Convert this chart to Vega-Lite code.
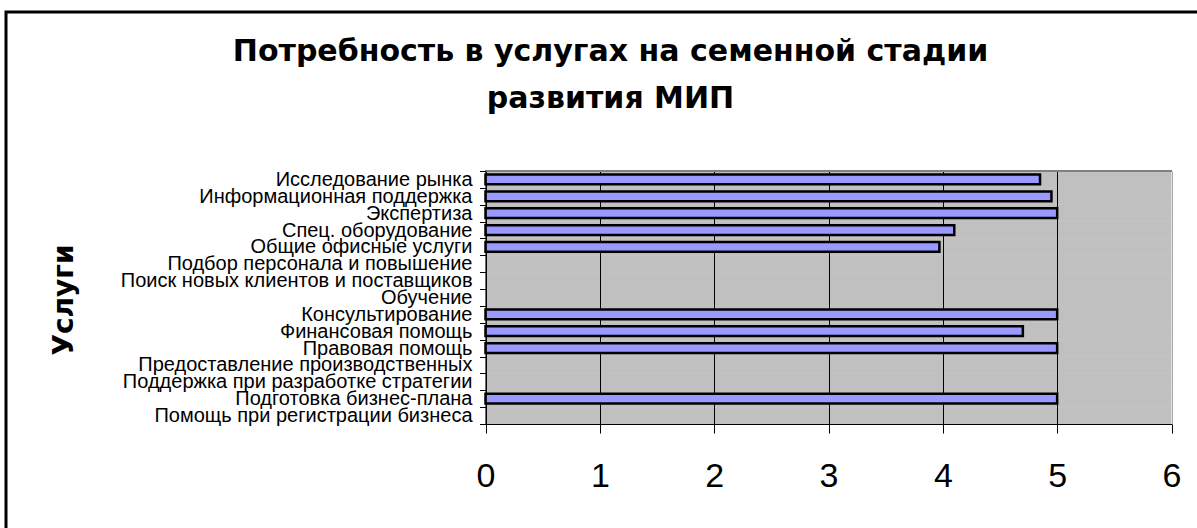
{
  "$schema": "https://vega.github.io/schema/vega-lite/v6.json",
  "width": 1195,
  "height": 571,
  "autosize": {"type": "none"},
  "padding": {"left": 6, "top": 12, "right": -4, "bottom": -55},
  "background": "white",
  "config": {
    "font": "Liberation Sans",
    "view": {"stroke": "black", "strokeWidth": 3}
  },
  "title": {
    "text": ["Потребность в услугах на семенной стадии", "развития МИП"],
    "font": "DejaVu Sans",
    "fontSize": 30,
    "fontWeight": "bold",
    "color": "black",
    "anchor": "middle",
    "frame": "group",
    "baseline": "alphabetic",
    "lineHeight": 47,
    "offset": 0,
    "dx": 7,
    "dy": 136
  },
  "data": {
    "values": [
      {"service": "Исследование рынка", "score": 4.85},
      {"service": "Информационная поддержка", "score": 4.95},
      {"service": "Экспертиза", "score": 5},
      {"service": "Спец. оборудование", "score": 4.1},
      {"service": "Общие офисные услуги", "score": 3.97},
      {"service": "Подбор персонала и повышение", "score": 0},
      {"service": "Поиск новых клиентов и поставщиков", "score": 0},
      {"service": "Обучение", "score": 0},
      {"service": "Консультирование ", "score": 5},
      {"service": "Финансовая помощь", "score": 4.7},
      {"service": "Правовая помощь", "score": 5},
      {"service": "Предоставление производственных", "score": 0},
      {"service": "Поддержка при разработке стратегии", "score": 0},
      {"service": "Подготовка бизнес-плана", "score": 5},
      {"service": "Помощь при регистрации бизнеса", "score": 0}
    ]
  },
  "layer": [
    {
      "mark": {"type": "rect", "fill": "black", "fillOpacity": 0.247},
      "encoding": {
        "y": {
          "field": "service",
          "type": "nominal",
          "scale": {
            "domain": [
              "Исследование рынка",
              "Информационная поддержка",
              "Экспертиза",
              "Спец. оборудование",
              "Общие офисные услуги",
              "Подбор персонала и повышение",
              "Поиск новых клиентов и поставщиков",
              "Обучение",
              "Консультирование ",
              "Финансовая помощь",
              "Правовая помощь",
              "Предоставление производственных",
              "Поддержка при разработке стратегии",
              "Подготовка бизнес-плана",
              "Помощь при регистрации бизнеса"
            ],
            "range": [159, 412],
            "paddingInner": 0,
            "paddingOuter": 0
          },
          "axis": {
            "orient": "left",
            "offset": -479.5,
            "title": "Услуги",
            "titleFont": "DejaVu Sans",
            "titleFontSize": 28,
            "titleFontWeight": "bold",
            "titleColor": "black",
            "titleAngle": -90,
            "titleAlign": "center",
            "titleBaseline": "alphabetic",
            "titleX": -413,
            "titleY": 287.5,
            "labelFont": "Liberation Sans",
            "labelFontSize": 20,
            "labelColor": "black",
            "labelLimit": 0,
            "labelPadding": 7.5,
            "labelOverlap": false,
            "tickSize": 6,
            "tickColor": "black",
            "tickBand": "extent",
            "domainColor": "black",
            "grid": false
          }
        },
        "x": {
          "datum": 0,
          "type": "quantitative",
          "scale": {"domain": [0, 6], "range": [479.5, 1165.5], "nice": false, "zero": false},
          "axis": {
            "orient": "bottom",
            "offset": -159,
            "title": null,
            "values": [0, 1, 2, 3, 4, 5, 6],
            "format": "d",
            "labelFont": "Liberation Sans",
            "labelFontSize": 34,
            "labelColor": "black",
            "labelBaseline": "alphabetic",
            "labelPadding": 53,
            "labelFlush": false,
            "labelOverlap": false,
            "tickSize": 9,
            "tickColor": "black",
            "domainColor": "black",
            "grid": true,
            "gridColor": {"condition": {"test": "datum.value === 6", "value": "#A8A8A8"}, "value": "black"},
            "gridOpacity": 1,
            "gridWidth": 1
          }
        },
        "x2": {"datum": 6}
      }
    },
    {
      "mark": {"type": "rule", "color": "#808080", "strokeWidth": 2},
      "encoding": {
        "x": {"datum": 0, "type": "quantitative"},
        "x2": {"datum": 6},
        "y": {"datum": "Исследование рынка", "type": "nominal", "bandPosition": 0}
      }
    },
    {
      "transform": [{"filter": "datum.score > 0"}],
      "mark": {"type": "bar", "fill": "#9999FF", "stroke": "black", "strokeWidth": 2.5, "height": {"band": 0.58}},
      "encoding": {
        "y": {"field": "service", "type": "nominal"},
        "x": {"field": "score", "type": "quantitative"}
      }
    }
  ]
}
